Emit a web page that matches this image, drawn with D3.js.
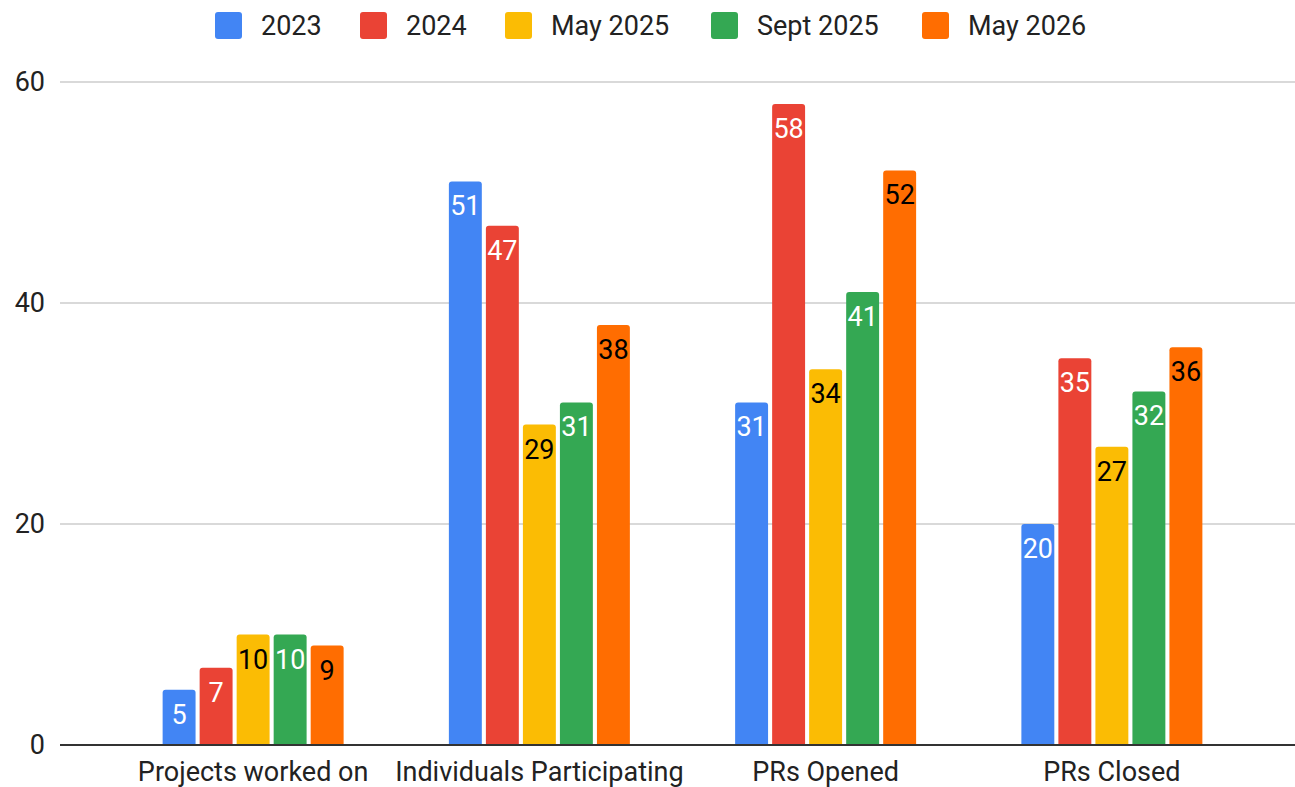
<!DOCTYPE html>
<html>
<head>
<meta charset="utf-8">
<script src="https://cdn.jsdelivr.net/npm/d3@7"></script>
<style>
  body { margin: 0; background: #fff; }
  text { font-family: Roboto, "Noto Sans", sans-serif; }
</style>
</head>
<body>
<script>
var categories = ['Projects worked on', 'Individuals Participating', 'PRs Opened', 'PRs Closed'];
var series = ['2023', '2024', 'May 2025', 'Sept 2025', 'May 2026'];
var values2023 = [5, 51, 31, 20];
var values2024 = [7, 47, 58, 35];
var valuesMay2025 = [10, 29, 34, 27];
var valuesSept2025 = [10, 31, 41, 32];
var valuesMay2026 = [9, 38, 52, 36];
var yTicks = [0, 20, 40, 60];

var colors = ['#4285F4', '#EA4335', '#FBBC04', '#34A853', '#FF6D01'];
var labelColors = ['#fff', '#fff', '#000', '#fff', '#000'];

var allValues = [values2023, values2024, valuesMay2025, valuesSept2025, valuesMay2026];
var rows = [];
categories.forEach(function(c, i) {
  series.forEach(function(s, j) {
    rows.push({cat: c, series: s, idx: j, value: allValues[j][i]});
  });
});

var W = 1295, H = 787;
var svg = d3.select('body').append('svg')
  .attr('width', W).attr('height', H);

var y = d3.scaleLinear().domain([0, 60]).range([745, 82]);
var x0 = d3.scaleBand().domain(categories).range([110, 1255]);
var x1 = d3.scaleBand().domain(series).range([0, 181]).paddingInner(0.11);

// gridlines
svg.append('g').selectAll('line')
  .data(yTicks.filter(function(d){ return d > 0; }))
  .enter().append('line')
  .attr('x1', 60).attr('x2', W)
  .attr('y1', function(d){ return y(d); })
  .attr('y2', function(d){ return y(d); })
  .attr('stroke', '#ccc').attr('stroke-width', 1.5);

// y labels
svg.append('g').selectAll('text')
  .data(yTicks)
  .enter().append('text')
  .attr('x', 45)
  .attr('y', function(d){ return y(d); })
  .attr('dy', '0.35em')
  .attr('text-anchor', 'end')
  .attr('font-size', 27)
  .attr('fill', '#222')
  .text(function(d){ return d; });

function barPath(x, top, w, h, r) {
  r = Math.min(r, h);
  return 'M' + x + ',' + (top + h) +
    'V' + (top + r) +
    'Q' + x + ',' + top + ' ' + (x + r) + ',' + top +
    'H' + (x + w - r) +
    'Q' + (x + w) + ',' + top + ' ' + (x + w) + ',' + (top + r) +
    'V' + (top + h) + 'Z';
}

var groupLeft = function(d){ return x0(d.cat) + x0.bandwidth() / 2 - 90.5 + x1(d.series); };

svg.append('g').selectAll('path')
  .data(rows)
  .enter().append('path')
  .attr('d', function(d){
    return barPath(groupLeft(d), y(d.value), x1.bandwidth(), y(0) - y(d.value), 3);
  })
  .attr('fill', function(d){ return colors[d.idx]; });

// value labels
svg.append('g').selectAll('text')
  .data(rows)
  .enter().append('text')
  .attr('x', function(d){ return groupLeft(d) + x1.bandwidth() / 2; })
  .attr('y', function(d){ return y(d.value) + 34; })
  .attr('text-anchor', 'middle')
  .attr('font-size', 27)
  .attr('fill', function(d){ return labelColors[d.idx]; })
  .attr('stroke', function(d){ return colors[d.idx]; })
  .attr('stroke-width', 3)
  .attr('paint-order', 'stroke')
  .text(function(d){ return d.value; });

// baseline
svg.append('line')
  .attr('x1', 60).attr('x2', W)
  .attr('y1', y(0)).attr('y2', y(0))
  .attr('stroke', '#333').attr('stroke-width', 2);

// category labels
svg.append('g').selectAll('text')
  .data(categories)
  .enter().append('text')
  .attr('x', function(d){ return x0(d) + x0.bandwidth() / 2; })
  .attr('y', 781)
  .attr('text-anchor', 'middle')
  .attr('font-size', 27)
  .attr('fill', '#222')
  .text(function(d){ return d; });

// legend
var legendX = [215, 360, 505, 711, 922];
var legend = svg.append('g').selectAll('g')
  .data(series)
  .enter().append('g')
  .attr('transform', function(d, i){ return 'translate(' + legendX[i] + ',12)'; });
legend.append('rect')
  .attr('width', 27).attr('height', 27).attr('rx', 3)
  .attr('fill', function(d, i){ return colors[i]; });
legend.append('text')
  .attr('x', 46).attr('y', 13.5)
  .attr('dy', '0.35em')
  .attr('font-size', 27)
  .attr('fill', '#222')
  .text(function(d){ return d; });
</script>
</body>
</html>
